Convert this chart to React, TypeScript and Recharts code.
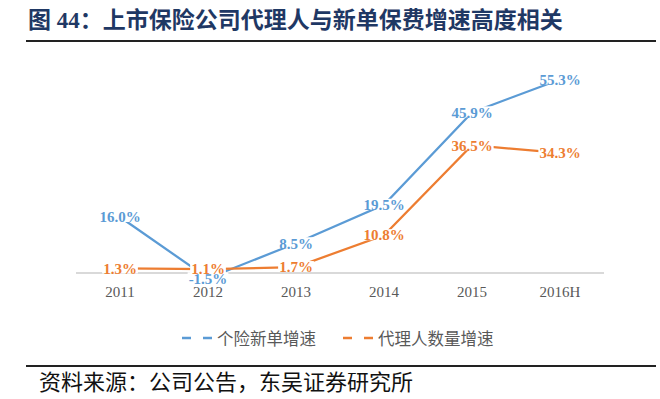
import { LineChart, Line, XAxis, YAxis, ReferenceLine, LabelList } from 'recharts';

const years = ['2011', '2012', '2013', '2014', '2015', '2016H'];
const premiumGrowth = [16.0, -1.5, 8.5, 19.5, 45.9, 55.3];
const agentGrowth = [1.3, 1.1, 1.7, 10.8, 36.5, 34.3];

const BLUE = '#5B9BD5';
const ORANGE = '#ED7D31';

const chartData = years.map((year, i) => ({
  year,
  premium: premiumGrowth[i],
  agent: agentGrowth[i],
}));

// text width guess for bold 15px serif, so the white box hides the line under the label
const labelWidth = (s: string) => {
  let w = 0;
  for (const ch of s) {
    if (ch === '%') w += 15;
    else if (ch === '.') w += 3.75;
    else if (ch === '-') w += 5;
    else w += 7.5;
  }
  return w + 2;
};

const makeLabel = (color: string) => (props: any) => {
  const { x, y, value } = props;
  const text = `${Number(value).toFixed(1)}%`;
  const w = labelWidth(text);
  return (
    <g>
      <rect x={x - w / 2} y={y - 6} width={w} height={11} fill="#fff" />
      <text
        x={x}
        y={y}
        dy="0.35em"
        textAnchor="middle"
        fill={color}
        style={{ fontFamily: '"Liberation Serif", serif', fontSize: 15, fontWeight: 700 }}
      >
        {text}
      </text>
    </g>
  );
};

const legendItems = [
  { name: '个险新单增速', color: BLUE, left: 182 },
  { name: '代理人数量增速', color: ORANGE, left: 343 },
];

export default function App() {
  return (
    <div
      style={{
        position: 'absolute',
        left: 0,
        top: 0,
        width: 660,
        height: 399,
        background: '#fff',
        overflow: 'hidden',
      }}
    >
      {/* title */}
      <div
        style={{
          position: 'absolute',
          left: 28,
          top: 6,
          fontFamily: '"Liberation Serif", "Noto Sans CJK SC", serif',
          fontWeight: 700,
          fontSize: 23,
          lineHeight: '30px',
          color: '#1F3864',
          whiteSpace: 'nowrap',
        }}
      >
        图 44：上市保险公司代理人与新单保费增速高度相关
      </div>
      <div style={{ position: 'absolute', left: 26, top: 40, width: 630, height: 2, background: '#222' }} />

      <div style={{ position: 'absolute', left: 0, top: 0 }}>
        <LineChart
          width={660}
          height={320}
          data={chartData}
          margin={{ top: 63, right: 56, bottom: 6.5, left: 76 }}
        >
          <XAxis
            dataKey="year"
            axisLine={false}
            tickLine={false}
            tickSize={0}
            tickMargin={3}
            height={30}
            padding={{ left: 44, right: 44 }}
            tick={{ fill: '#595959', fontSize: 15, fontFamily: '"Liberation Serif", serif' }}
          />
          <YAxis hide domain={[-3, 60]} />
          <ReferenceLine y={0} stroke="#D9D9D9" strokeWidth={2} />
          <Line
            dataKey="premium"
            stroke={BLUE}
            strokeWidth={2.25}
            dot={false}
            isAnimationActive={false}
          />
          <Line
            dataKey="agent"
            stroke={ORANGE}
            strokeWidth={2.25}
            dot={false}
            isAnimationActive={false}
          />
          {/* label-only series so every label sits above both lines */}
          <Line dataKey="premium" stroke="none" dot={false} isAnimationActive={false}>
            <LabelList dataKey="premium" content={makeLabel(BLUE)} />
          </Line>
          <Line dataKey="agent" stroke="none" dot={false} isAnimationActive={false}>
            <LabelList dataKey="agent" content={makeLabel(ORANGE)} />
          </Line>
        </LineChart>
      </div>

      {/* legend */}
      {legendItems.map((item) => (
        <div
          key={item.name}
          style={{
            position: 'absolute',
            left: item.left,
            top: 327,
            height: 22,
            display: 'flex',
            alignItems: 'center',
            whiteSpace: 'nowrap',
          }}
        >
          <svg width={35} height={22}>
            <line x1={0} y1={11} x2={33} y2={11} stroke={item.color} strokeWidth={2.5} strokeDasharray="9 12" />
          </svg>
          <span
            style={{
              fontFamily: '"Noto Sans CJK SC", sans-serif',
              fontSize: 16.5,
              color: '#595959',
            }}
          >
            {item.name}
          </span>
        </div>
      ))}

      {/* source */}
      <div style={{ position: 'absolute', left: 26, top: 365, width: 630, height: 2, background: '#222' }} />
      <div
        style={{
          position: 'absolute',
          left: 39,
          top: 366,
          fontFamily: '"Noto Sans CJK SC", sans-serif',
          fontSize: 22,
          lineHeight: '28px',
          color: '#111',
          whiteSpace: 'nowrap',
        }}
      >
        资料来源：公司公告，东吴证券研究所
      </div>
    </div>
  );
}
